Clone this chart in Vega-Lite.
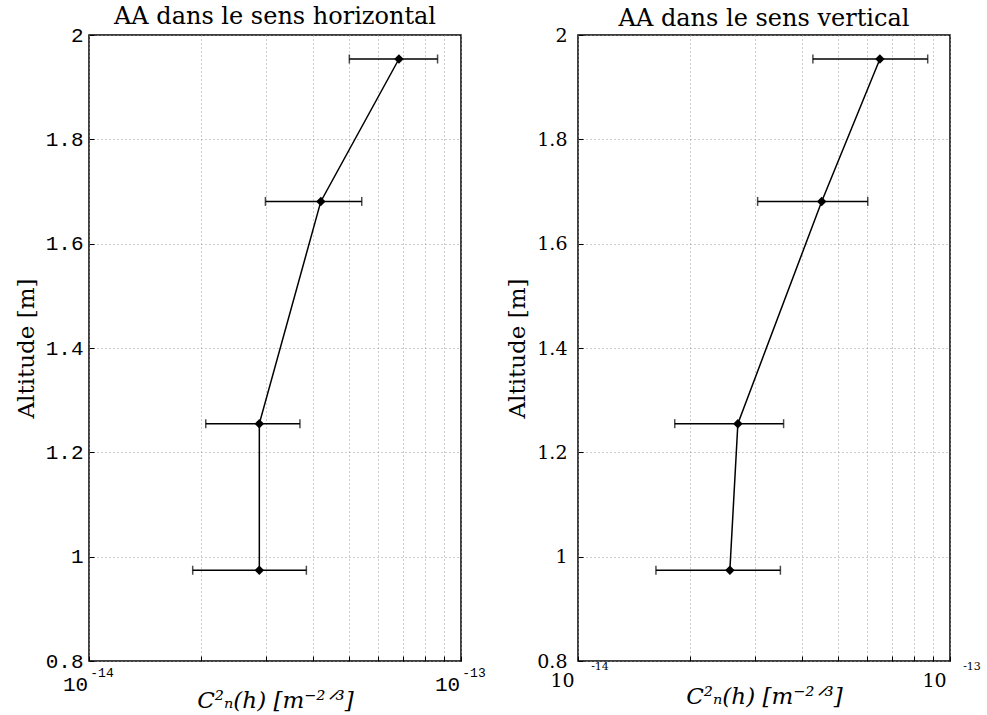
{
  "$schema": "https://vega.github.io/schema/vega-lite/v6.json",
  "background": "white",
  "padding": {"left": 14, "top": 4, "right": 5, "bottom": 5},
  "spacing": 117,
  "bounds": "flush",
  "datasets": {
    "h": [
      {"alt": 1.954, "c": 6.81e-14, "lo": 5.01e-14, "hi": 8.65e-14},
      {"alt": 1.681, "c": 4.20e-14, "lo": 2.98e-14, "hi": 5.41e-14},
      {"alt": 1.255, "c": 2.87e-14, "lo": 2.06e-14, "hi": 3.69e-14},
      {"alt": 0.974, "c": 2.87e-14, "lo": 1.90e-14, "hi": 3.84e-14}
    ],
    "v": [
      {"alt": 1.954, "c": 6.48e-14, "lo": 4.28e-14, "hi": 8.71e-14},
      {"alt": 1.681, "c": 4.52e-14, "lo": 3.04e-14, "hi": 6.01e-14},
      {"alt": 1.255, "c": 2.69e-14, "lo": 1.82e-14, "hi": 3.57e-14},
      {"alt": 0.974, "c": 2.56e-14, "lo": 1.62e-14, "hi": 3.50e-14}
    ],
    "exp": [{"x": 1e-14, "e": "-14"}, {"x": 1e-13, "e": "-13"}]
  },
  "config": {
    "view": {"stroke": "#000", "strokeWidth": 1.5},
    "axis": {
      "domain": false,
      "labelColor": "#000",
      "tickColor": "#000",
      "tickSize": -5,
      "grid": true,
      "gridDash": [1, 3],
      "gridColor": "#999",
      "gridWidth": 1,
      "labelOverlap": false,
      "labelFlush": false,
      "titleColor": "#000",
      "titleFontWeight": "normal",
      "titleFont": "DejaVu Serif",
      "titleFontSize": 23
    },
    "title": {"font": "DejaVu Serif", "fontSize": 24, "fontWeight": "normal", "color": "#000", "offset": -5}
  },
  "hconcat": [
    {
      "width": 372,
      "height": 626,
      "title": "AA dans le sens horizontal",
      "data": {"name": "h"},
      "layer": [
        {
          "mark": {"type": "rule", "color": "#000", "strokeWidth": 1.5},
          "encoding": {
            "x": {"field": "lo", "type": "quantitative",
              "scale": {"type": "log", "domain": [1e-14, 1e-13], "nice": false},
              "axis": {
                "values": [1e-14, 2e-14, 3e-14, 4e-14, 5e-14, 6e-14, 7e-14, 8e-14, 9e-14, 1e-13],
                "labelExpr": "(datum.value < 1.5e-14 || datum.value > 9.5e-14) ? '10' : ''",
                "labelFont": "Liberation Mono", "labelFontSize": 21, "labelOffset": -14, "labelPadding": 17,
                "title": "C²ₙ(h)  [m⁻²ᐟ³]", "titleFontStyle": "italic", "titlePadding": -5
              }},
            "x2": {"field": "hi"},
            "y": {"field": "alt", "type": "quantitative",
              "scale": {"domain": [0.8, 2], "nice": false, "zero": false},
              "axis": {
                "values": [0.8, 1, 1.2, 1.4, 1.6, 1.8, 2],
                "labelExpr": "format(datum.value, '~g')",
                "labelFont": "Liberation Mono", "labelFontSize": 21, "labelPadding": 11,
                "title": "Altitude [m]", "titlePadding": 7
              }}
          }
        },
        {
          "mark": {"type": "tick", "orient": "vertical", "color": "#000", "thickness": 1.5, "size": 9},
          "encoding": {"x": {"field": "lo", "type": "quantitative"}, "y": {"field": "alt", "type": "quantitative"}}
        },
        {
          "mark": {"type": "tick", "orient": "vertical", "color": "#000", "thickness": 1.5, "size": 9},
          "encoding": {"x": {"field": "hi", "type": "quantitative"}, "y": {"field": "alt", "type": "quantitative"}}
        },
        {
          "mark": {"type": "line", "color": "#000", "strokeWidth": 1.5},
          "encoding": {"x": {"field": "c", "type": "quantitative"}, "y": {"field": "alt", "type": "quantitative"}, "order": {"field": "alt", "type": "quantitative"}}
        },
        {
          "mark": {"type": "point", "shape": "diamond", "filled": true, "color": "#000", "size": 90, "opacity": 1},
          "encoding": {"x": {"field": "c", "type": "quantitative"}, "y": {"field": "alt", "type": "quantitative"}}
        },
        {
          "data": {"name": "exp"},
          "mark": {"type": "text", "font": "Liberation Mono", "fontSize": 13, "dx": 13, "dy": 12, "align": "center", "baseline": "middle", "color": "#000"},
          "encoding": {"x": {"field": "x", "type": "quantitative"}, "y": {"datum": 0.8}, "text": {"field": "e"}}
        }
      ]
    },
    {
      "width": 372,
      "height": 626,
      "title": "AA dans le sens vertical",
      "data": {"name": "v"},
      "layer": [
        {
          "mark": {"type": "rule", "color": "#000", "strokeWidth": 1.5},
          "encoding": {
            "x": {"field": "lo", "type": "quantitative",
              "scale": {"type": "log", "domain": [1e-14, 1e-13], "nice": false},
              "axis": {
                "values": [1e-14, 2e-14, 3e-14, 4e-14, 5e-14, 6e-14, 7e-14, 8e-14, 9e-14, 1e-13],
                "labelExpr": "(datum.value < 1.5e-14 || datum.value > 9.5e-14) ? '10' : ''",
                "labelFont": "DejaVu Serif", "labelFontSize": 19, "labelOffset": -16, "labelPadding": 15,
                "title": "C²ₙ(h)  [m⁻²ᐟ³]", "titleFontStyle": "italic", "titlePadding": -5
              }},
            "x2": {"field": "hi"},
            "y": {"field": "alt", "type": "quantitative",
              "scale": {"domain": [0.8, 2], "nice": false, "zero": false},
              "axis": {
                "values": [0.8, 1, 1.2, 1.4, 1.6, 1.8, 2],
                "labelExpr": "format(datum.value, '~g')",
                "labelFont": "DejaVu Serif", "labelFontSize": 19, "labelPadding": 16,
                "title": "Altitude [m]", "titlePadding": 7
              }}
          }
        },
        {
          "mark": {"type": "tick", "orient": "vertical", "color": "#000", "thickness": 1.5, "size": 9},
          "encoding": {"x": {"field": "lo", "type": "quantitative"}, "y": {"field": "alt", "type": "quantitative"}}
        },
        {
          "mark": {"type": "tick", "orient": "vertical", "color": "#000", "thickness": 1.5, "size": 9},
          "encoding": {"x": {"field": "hi", "type": "quantitative"}, "y": {"field": "alt", "type": "quantitative"}}
        },
        {
          "mark": {"type": "line", "color": "#000", "strokeWidth": 1.5},
          "encoding": {"x": {"field": "c", "type": "quantitative"}, "y": {"field": "alt", "type": "quantitative"}, "order": {"field": "alt", "type": "quantitative"}}
        },
        {
          "mark": {"type": "point", "shape": "diamond", "filled": true, "color": "#000", "size": 90, "opacity": 1},
          "encoding": {"x": {"field": "c", "type": "quantitative"}, "y": {"field": "alt", "type": "quantitative"}}
        },
        {
          "data": {"name": "exp"},
          "mark": {"type": "text", "font": "DejaVu Serif", "fontSize": 11, "dx": 22, "dy": 6, "align": "center", "baseline": "middle", "color": "#000"},
          "encoding": {"x": {"field": "x", "type": "quantitative"}, "y": {"datum": 0.8}, "text": {"field": "e"}}
        }
      ]
    }
  ]
}
